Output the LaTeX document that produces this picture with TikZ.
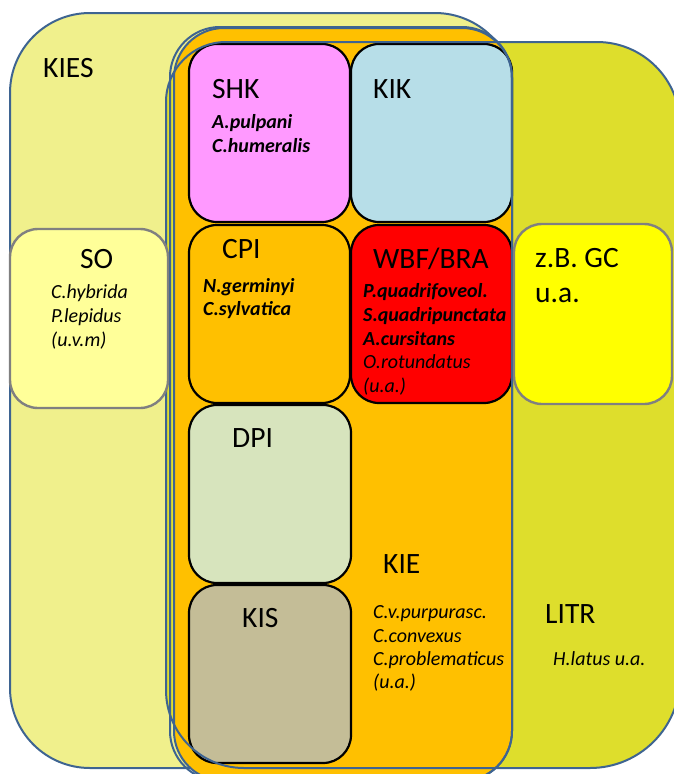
\documentclass[tikz,border=0pt]{standalone}
\usepackage{fontspec}
\setmainfont{Carlito}
\definecolor{kiesfill}{RGB}{240,240,140}
\definecolor{litrfill}{RGB}{222,222,44}
\definecolor{kieorange}{RGB}{255,192,0}
\definecolor{frameblue}{RGB}{62,100,145}
\definecolor{shkpink}{RGB}{255,153,255}
\definecolor{kikblue}{RGB}{183,222,232}
\definecolor{wbfred}{RGB}{255,0,0}
\definecolor{dpigreen}{RGB}{215,228,189}
\definecolor{kisbrown}{RGB}{196,189,151}
\definecolor{sofill}{RGB}{255,255,153}
\definecolor{gcfill}{RGB}{255,255,0}
\definecolor{greyedge}{RGB}{128,128,128}
\tikzset{
  frame/.style={draw=frameblue, line width=2pt},
  habitat/.style={draw=black, line width=2.2pt, rounded corners=28pt},
  sidebox/.style={draw=greyedge, line width=2.4pt, rounded corners=28pt},
  lbl/.style={anchor=base west, inner sep=0pt, font=\fontsize{29.5}{35}\selectfont},
  sp/.style={anchor=base west, inner sep=0pt, font=\fontsize{20}{24}\selectfont\itshape},
  spb/.style={anchor=base west, inner sep=0pt, font=\fontsize{20}{24}\selectfont\bfseries\itshape},
}
% outline of the LITR area, with corners of unequal radius
\newcommand{\litrpath}{
  (166,102) .. controls (166,68.9) and (192.9,42) .. (226,42)
  -- (597,42) .. controls (642.8,42) and (680,79.2) .. (680,125)
  -- (680,678) .. controls (680,727.7) and (639.7,768) .. (590,768)
  -- (244,768) .. controls (200.9,768) and (166,733.1) .. (166,690)
  -- cycle}
\begin{document}
\begin{tikzpicture}[x=1pt,y=-1pt]
\useasboundingbox (0,0) rectangle (674,774);
\clip (0,0) rectangle (674,774);

% KIES area
\draw[frame, fill=kiesfill, rounded corners=80pt] (10,13) rectangle (515,768);
% LITR area (fill)
\fill[litrfill] \litrpath;
% KIE area (fill)
\fill[kieorange, rounded corners=50pt] (174,27) rectangle (512,781);

% habitat boxes
\draw[habitat, fill=shkpink]   (189,44)  rectangle (350,222);
\draw[habitat, fill=kikblue]   (351,44)  rectangle (512,222);
\draw[habitat, fill=kieorange] (189,225) rectangle (350,403);
\draw[habitat, fill=wbfred]    (351,225) rectangle (512,403);
\draw[habitat, fill=dpigreen]  (189,405) rectangle (351,583);
\draw[habitat, fill=kisbrown]  (189,585) rectangle (351,763);

% outlines of LITR and KIE
\draw[frame] \litrpath;
\draw[frame, rounded corners=50pt] (170,27) rectangle (512,781);
\draw[frame, rounded corners=50pt] (174,28) rectangle (512,781);

% side boxes
\draw[sidebox, fill=sofill] (10,229) rectangle (168,408);
\draw[sidebox, fill=gcfill] (514,224) rectangle (672,404);

% labels
\node[lbl] (kies) at (43,77) {KIES};
\node[lbl] (shk) at (212,98) {SHK};
\node[spb] (shk1) at (212,128) {A.pulpani};
\node[spb] (shk2) at (212,152) {C.humeralis};
\node[lbl] (kik) at (373,98) {KIK};

\node[lbl] (so) at (80,268) {SO};
\node[sp] (so1) at (51,298) {C.hybrida};
\node[sp] (so2) at (51,322) {P.lepidus};
\node[sp] (so3) at (51,346) {(u.v.m)};

\node[lbl] (cpi) at (222,258) {CPI};
\node[spb] (cpi1) at (203,292) {N.germinyi};
\node[spb] (cpi2) at (203,315) {C.sylvatica};

\node[lbl] (wbf) at (373,268) {WBF/BRA};
\node[spb] (wbf1) at (363,297) {P.quadrifoveol.};
\node[spb] (wbf2) at (363,321) {S.quadripunctata};
\node[spb] (wbf3) at (363,345) {A.cursitans};
\node[sp] (wbf4) at (363,368) {O.rotundatus};
\node[sp] (wbf5) at (363,392) {(u.a.)};

\node[lbl] (gc1) at (535,267) {z.B. GC};
\node[lbl] (gc2) at (535,302) {u.a.};

\node[lbl] (dpi) at (232,447) {DPI};
\node[lbl] (kie) at (383,573) {KIE};
\node[lbl] (kis) at (242,627) {KIS};
\node[sp] (kie1) at (373,618) {C.v.purpurasc.};
\node[sp] (kie2) at (373,642) {C.convexus};
\node[sp] (kie3) at (373,665) {C.problematicus};
\node[sp] (kie4) at (373,688) {(u.a.)};

\node[lbl] (litr) at (545,623) {LITR};
\node[sp] (litr1) at (553,665) {H.latus u.a.};
\end{tikzpicture}
\end{document}
